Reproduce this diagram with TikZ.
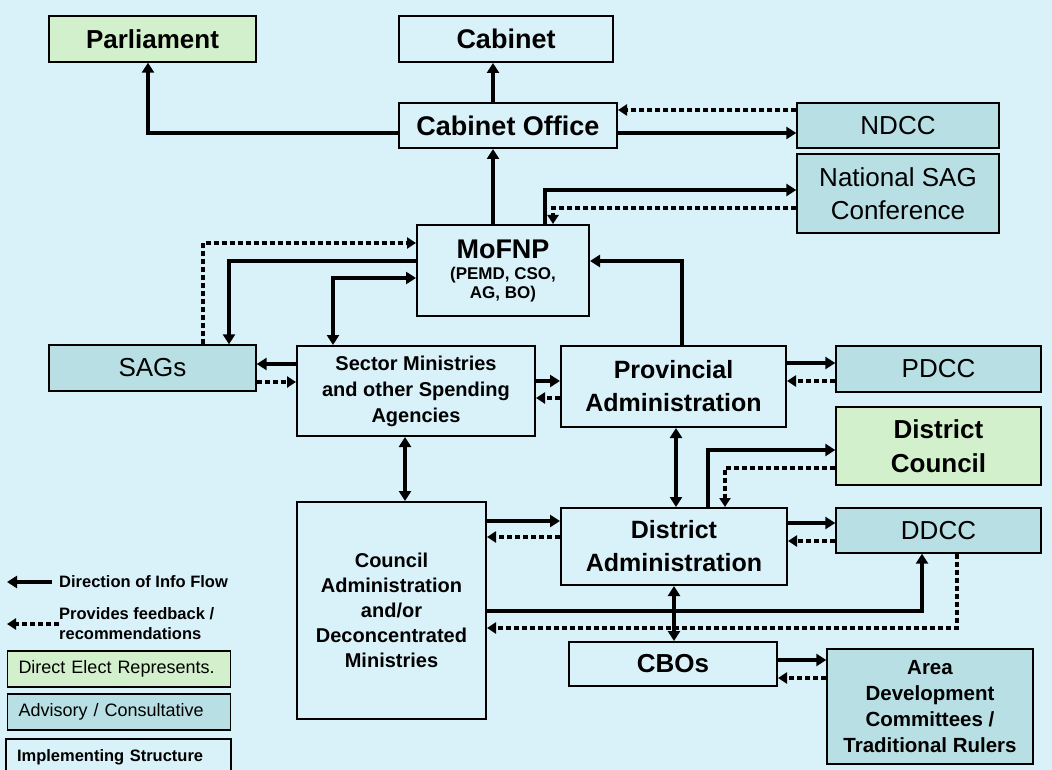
\documentclass[tikz,border=0pt]{standalone}
\usepackage{fontspec}
\setmainfont{Liberation Sans}
\usetikzlibrary{arrows.meta}
\definecolor{bgc}{RGB}{217,242,250}
\definecolor{advc}{RGB}{184,223,227}
\definecolor{elcol}{RGB}{211,240,204}

\begin{document}
\begin{tikzpicture}[x=1pt,y=-1pt,
    impl/.style ={draw, line width=2pt, fill=bgc, align=center, inner sep=0pt},
    advis/.style={draw, line width=1.4pt, fill=advc, align=center, inner sep=0pt,
                  font=\fontsize{26}{33}\selectfont},
    elect/.style={draw, line width=1.4pt, fill=elcol, align=center, inner sep=0pt,
                  font=\fontsize{26}{34}\selectfont\bfseries},
    flow/.style  ={line width=4pt, -{Triangle[length=10pt,width=12pt]}},
    flowtw/.style={line width=4pt, {Triangle[length=10pt,width=12pt]}-{Triangle[length=10pt,width=12pt]}},
    feedb/.style ={line width=3.5pt, dash pattern=on 5pt off 3pt, -{Triangle[length=9pt,width=11pt]}}]
   \fill[bgc] (0,0) rectangle (1052,770);
   \useasboundingbox (0,0) rectangle (1052,770);

   % top level
   \node[elect, minimum width=207pt, minimum height=46pt] (parl) at (152.5,39) {Parliament};
   \node[impl, minimum width=214pt, minimum height=46pt, font=\fontsize{27}{30}\selectfont\bfseries] (cab) at (506,39) {Cabinet};
   \node[impl, minimum width=218pt, minimum height=45pt, font=\fontsize{27}{30}\selectfont\bfseries] (cabo) at (508,125.5) {Cabinet Office};
   \node[advis, minimum width=202pt, minimum height=45pt] (ndcc) at (898,125.5) {NDCC};
   \node[advis, minimum width=202pt, minimum height=79pt] (nsag) at (898,193.5) {National SAG\\Conference};
   \node[impl, minimum width=172pt, minimum height=91pt, font=\fontsize{17}{19}\selectfont\bfseries] (mofnp) at (503,270.5)
        {{\fontsize{27}{30}\selectfont MoFNP}\\[2pt](PEMD, CSO,\\AG, BO)};

   % provincial level
   \node[advis, minimum width=207pt, minimum height=46pt] (sags) at (152.5,368) {SAGs};
   \node[impl, minimum width=238pt, minimum height=90pt, font=\fontsize{20}{26}\selectfont\bfseries] (sect) at (416,391)
        {Sector Ministries\\and other Spending\\Agencies};
   \node[impl, minimum width=225pt, minimum height=81pt, font=\fontsize{25}{33}\selectfont\bfseries] (prov) at (673.5,386.5)
        {Provincial\\Administration};
   \node[advis, minimum width=205pt, minimum height=46pt] (pdcc) at (938.5,369) {PDCC};
   \node[elect, minimum width=205pt, minimum height=78pt] (dcl) at (938.5,446) {District\\Council};

   % district level
   \node[impl, minimum width=226pt, minimum height=77pt, font=\fontsize{25}{33}\selectfont\bfseries] (dadm) at (674,546.5)
        {District\\Administration};
   \node[advis, minimum width=205pt, minimum height=45pt] (ddcc) at (938.5,530.5) {DDCC};
   \node[impl, minimum width=189pt, minimum height=217pt, font=\fontsize{20}{25}\selectfont\bfseries] (coun) at (391.5,610.5)
        {Council\\Administration\\and/or\\Deconcentrated\\Ministries};
   \node[impl, minimum width=208pt, minimum height=44pt, font=\fontsize{26}{30}\selectfont\bfseries] (cbo) at (673,664) {CBOs};
   \node[advis, minimum width=206pt, minimum height=115pt, font=\fontsize{20.5}{25.7}\selectfont\bfseries] (adc) at (930,706.5)
        {Area\\Development\\Committees /\\Traditional Rulers};

   % info flow
   \draw[flow] (cabo.north -| 493,0) -- (cab.south -| 493,0);
   \draw[flow] (cabo.west |- 0,133) -| (parl.south -| 148,0);
   \draw[flow] (mofnp.north -| 493,0) -- (cabo.south -| 493,0);
   \draw[flow] (cabo.east |- 0,133) -- (ndcc.west |- 0,133);
   \draw[feedb] (ndcc.west |- 0,110) -- (cabo.east |- 0,110);
   \draw[flow] (mofnp.north -| 545,0) |- (nsag.west |- 0,190);
   \draw[feedb] (nsag.west |- 0,208) -| (mofnp.north -| 553,0);
   \draw[feedb] (sags.north -| 203,0) |- (mofnp.west |- 0,243);
   \draw[flow] (mofnp.west |- 0,261) -| (sags.north -| 229,0);
   \draw[flowtw] (sect.north -| 333,0) |- (mofnp.west |- 0,278);
   \draw[flow] (prov.north -| 682,0) |- (mofnp.east |- 0,261);
   \draw[flow] (sect.west |- 0,364) -- (sags.east |- 0,364);
   \draw[feedb] (sags.east |- 0,382) -- (sect.west |- 0,382);
   \draw[flow] (sect.east |- 0,381) -- (prov.west |- 0,381);
   \draw[feedb] (prov.west |- 0,398) -- (sect.east |- 0,398);
   \draw[flow] (prov.east |- 0,363) -- (pdcc.west |- 0,363);
   \draw[feedb] (pdcc.west |- 0,381) -- (prov.east |- 0,381);
   \draw[flowtw] (sect.south -| 405,0) -- (coun.north -| 405,0);
   \draw[flowtw] (prov.south -| 676,0) -- (dadm.north -| 676,0);
   \draw[flow] (dadm.north -| 708,0) |- (dcl.west |- 0,450);
   \draw[feedb] (dcl.west |- 0,468) -| (dadm.north -| 725,0);
   \draw[flow] (coun.east |- 0,521) -- (dadm.west |- 0,521);
   \draw[feedb] (dadm.west |- 0,537) -- (coun.east |- 0,537);
   \draw[flow] (dadm.east |- 0,523) -- (ddcc.west |- 0,523);
   \draw[feedb] (ddcc.west |- 0,541) -- (dadm.east |- 0,541);
   \draw[flow] (coun.east |- 0,611) -| (ddcc.south -| 922,0);
   \draw[feedb] (ddcc.south -| 957,0) |- (coun.east |- 0,628);
   \draw[flowtw] (dadm.south -| 674,0) -- (cbo.north -| 674,0);
   \draw[flow] (cbo.east |- 0,660) -- (adc.west |- 0,660);
   \draw[feedb] (adc.west |- 0,678) -- (cbo.east |- 0,678);

   % legend
   \node[anchor=west, inner sep=0pt, font=\fontsize{16.5}{20}\selectfont\bfseries] (lgflow) at (59,582) {Direction of Info Flow};
   \coordinate (lgflowtip) at (7,582);
   \draw[flow] ([xshift=-7pt]lgflow.west) -- (lgflowtip);
   \node[anchor=north west, align=left, inner sep=0pt, font=\fontsize{16.5}{20}\selectfont\bfseries] (lgfeed) at (59,607)
        {Provides feedback /\\recommendations};
   \coordinate (lgfeedtip) at (7,624);
   \draw[feedb] (lgfeed.west |- 0,624) -- (lgfeedtip);
   \node[elect, text width=201pt, align=left, inner xsep=11pt, minimum height=36pt,
         font=\fontsize{18}{20}\selectfont] (lgelect) at (119,669) {Direct Elect Represents.};
   \node[advis, text width=201pt, align=left, inner xsep=11pt, minimum height=36pt,
         font=\fontsize{18}{20}\selectfont] (lgadv) at (119,712) {Advisory / Consultative};
   \node[impl, text width=203pt, align=left, inner xsep=11pt, minimum height=36pt,
         font=\fontsize{16.5}{20}\selectfont\bfseries] (lgimpl) at (118.5,757) {Implementing Structure};
 \end{tikzpicture}
\end{document}
